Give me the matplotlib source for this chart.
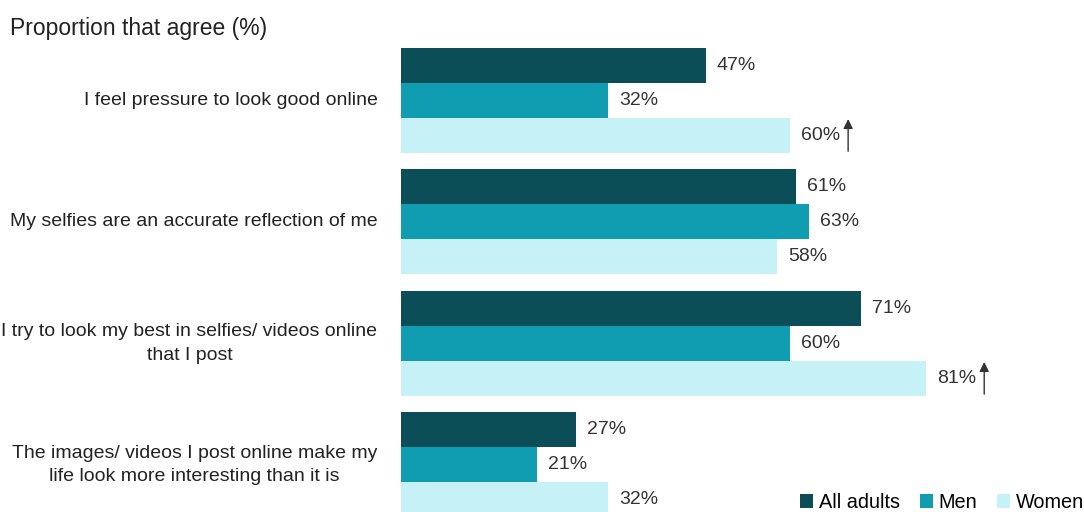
import matplotlib.pyplot as plt
import numpy as np
from matplotlib.transforms import offset_copy

plt.rcParams['font.family'] = ['Liberation Sans', 'DejaVu Sans']

statements = [
    "I feel pressure to look good online",
    "My selfies are an accurate reflection of me",
    "I try to look my best in selfies/ videos online\nthat I post",
    "The images/ videos I post online make my\nlife look more interesting than it is",
]
all_adults = [47, 61, 71, 27]
men = [32, 63, 60, 21]
women = [60, 58, 81, 32]
# women significantly higher than men
women_up = [True, False, True, False]

series = [("All adults", all_adults, "#0b4e58"),
          ("Men", men, "#109db1"),
          ("Women", women, "#c6f2f7")]

fig = plt.figure(figsize=(10.84, 5.12), dpi=100)
ax = fig.add_axes([401 / 1084, 0, 648 / 1084, 1])

pitch = 3.47
centers = np.arange(len(statements)) * pitch
for k, (name, vals, col) in enumerate(series):
    y = centers + (k - 1)
    ax.barh(y, vals, height=1.0, color=col, label=name)
    for yy, v in zip(y, vals):
        ax.annotate(f"{v}%", (v, yy), xytext=(8, 0), textcoords="offset points",
                    va="center", ha="left", fontsize=14, color="#333333")

# arrows for the women's bars
for yy, v, up in zip(centers + 1, women, women_up):
    if not up:
        continue
    trans = offset_copy(ax.transData, fig=fig, x=42, y=0, units="points")
    ax.annotate("", xy=(v, yy - 0.47), xytext=(v, yy + 0.45),
                xycoords=trans, textcoords=trans,
                arrowprops=dict(arrowstyle="-|>", color="#333333", lw=1.0,
                                mutation_scale=14, shrinkA=0, shrinkB=0))

for c, s in zip(centers, statements):
    ax.annotate(s, (0, c), xytext=(-17, 0), textcoords="offset points",
                ha="right", va="center", multialignment="center",
                linespacing=1.5, fontsize=14, color="#222222")

ax.set_xlim(0, 100)
ax.set_ylim(-1.5 + (512 - 48) / 35, -1.5 - 48 / 35)
ax.axis("off")

fig.text(10 / 1084, 1 - 28 / 512, "Proportion that agree (%)", ha="left",
         va="center", fontsize=16.5, color="#222222")

fig.legend(loc="lower right", bbox_to_anchor=(1.017, -0.035), ncol=3, frameon=False,
           fontsize=14.3, handlelength=0.65, handleheight=0.65, handletextpad=0.3,
           columnspacing=1.0)

fig.savefig("out.png", dpi=100)
